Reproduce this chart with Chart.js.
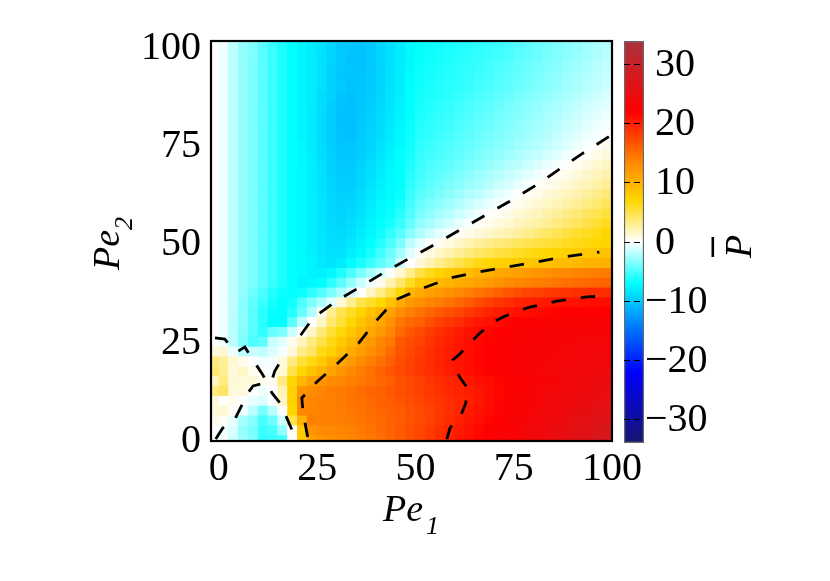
<!DOCTYPE html>
<html>
<head>
<meta charset="utf-8">
<title>Pe1 Pe2 map</title>
<script src="https://cdn.jsdelivr.net/npm/chart.js@4"></script>
<style>
  html, body { margin: 0; padding: 0; background: #fff; }
  canvas { position: absolute; left: 0; top: 0; }
</style>
</head>
<body>
<canvas id="mapCanvas" width="830" height="581"></canvas>
<canvas id="barCanvas" width="830" height="581"></canvas>
<script>
// cell centres
var pe1Cells = [-1.25,1.25,3.75,6.25,8.75,11.25,13.75,16.25,18.75,21.25,23.75,26.25,28.75,31.25,33.75,36.25,38.75,41.25,43.75,46.25,48.75,51.25,53.75,56.25,58.75,61.25,63.75,66.25,68.75,71.25,73.75,76.25,78.75,81.25,83.75,86.25,88.75,91.25,93.75,96.25,98.75];
var pe2Cells = [98.75,96.25,93.75,91.25,88.75,86.25,83.75,81.25,78.75,76.25,73.75,71.25,68.75,66.25,63.75,61.25,58.75,56.25,53.75,51.25,48.75,46.25,43.75,41.25,38.75,36.25,33.75,31.25,28.75,26.25,23.75,21.25,18.75,16.25,13.75,11.25,8.75,6.25,3.75,1.25,-1.25];

// P bar, one row per pe2Cells entry, top row first
var pressure = [
[0,-.5,-1.8,-2.9,-3.5,-4.5,-5.4,-6.2,-7, -7.5,-8,-8.5,-9.3,-10,-10.2,-10.3,-10,-9.3,-8.7,-8, -7.2,-6.9,-6.7,-6.5,-6.3,-6.1,-5.9,-5.7,-5.5,-5.3, -5,-4.7,-4.4,-4.1,-3.8,-3.5,-3.2,-2.9,-2.6,-2.3,-2],
[0,-.5,-1.8,-2.9,-3.5,-4.5,-5.4,-6.2,-7, -7.5,-8,-8.6,-9.3,-10,-10.3,-10.3,-10,-9.3,-8.7,-8, -7.2,-6.9,-6.6,-6.4,-6.2,-6,-5.8,-5.6,-5.4,-5.2, -4.9,-4.6,-4.3,-4,-3.7,-3.4,-3.1,-2.8,-2.5,-2.2,-1.9],
[0,-.5,-1.8,-2.9,-3.6,-4.5,-5.4,-6.2,-7, -7.5,-8,-8.7,-9.4,-10,-10.2,-10.3,-10,-9.4,-8.7,-8, -7.2,-6.8,-6.5,-6.3,-6.1,-5.9,-5.7,-5.5,-5.2,-5, -4.7,-4.4,-4.1,-3.8,-3.5,-3.2,-2.9,-2.6,-2.3,-2,-1.7],
[0,-.5,-1.8,-2.9,-3.6,-4.5,-5.4,-6.2,-7, -7.5,-8,-8.7,-9.5,-10.1,-10.3,-10.2,-9.9,-9.3,-8.6,-7.9, -7.1,-6.7,-6.4,-6.2,-6,-5.8,-5.6,-5.3,-5.1,-4.8, -4.5,-4.2,-3.9,-3.6,-3.3,-3,-2.7,-2.4,-2.1,-1.8,-1.5],
[0,-.5,-1.8,-2.9,-3.6,-4.5,-5.4,-6.2,-7, -7.5,-8,-8.7,-9.4,-10,-10.3,-10.2,-9.9,-9.3,-8.6,-7.9, -7.1,-6.6,-6.3,-6.1,-5.9,-5.7,-5.5,-5.2,-5,-4.7, -4.4,-4.1,-3.8,-3.5,-3.2,-2.9,-2.6,-2.3,-2,-1.7,-1.4],
[0,-.5,-1.8,-2.9,-3.6,-4.5,-5.4,-6.2,-7, -7.5,-8,-8.8,-9.5,-10.2,-10.4,-10.2,-9.8,-9.2,-8.5,-7.8, -7,-6.5,-6.2,-6,-5.8,-5.5,-5.2,-5,-4.7,-4.4, -4.1,-3.8,-3.5,-3.2,-2.9,-2.6,-2.3,-2,-1.7,-1.4,-1.1],
[0,-.5,-1.8,-2.9,-3.6,-4.5,-5.4,-6.2,-7, -7.5,-8,-8.9,-9.7,-10.3,-10.5,-10.2,-9.7,-9.1,-8.4,-7.7, -7,-6.4,-6.1,-5.8,-5.6,-5.3,-5,-4.7,-4.4,-4.1, -3.8,-3.5,-3.2,-2.9,-2.6,-2.3,-2,-1.7,-1.3,-1,-.8],
[0,-.5,-1.8,-2.9,-3.6,-4.5,-5.4,-6.2,-7, -7.5,-8.1,-9,-9.8,-10.4,-10.5,-10.1,-9.6,-9,-8.3,-7.6, -6.9,-6.3,-5.9,-5.6,-5.4,-5.1,-4.8,-4.5,-4.2,-3.9, -3.6,-3.3,-3,-2.7,-2.4,-2.1,-1.8,-1.4,-1.1,-.8,-.5],
[0,-.5,-1.8,-2.9,-3.6,-4.5,-5.4,-6.2,-7, -7.5,-8.1,-9,-9.8,-10.4,-10.5,-10,-9.5,-8.9,-8.2,-7.5, -6.8,-6.1,-5.8,-5.5,-5.2,-4.9,-4.6,-4.3,-4,-3.7, -3.4,-3.1,-2.8,-2.5,-2.2,-1.9,-1.5,-1.2,-.8,-.5,-.3],
[0,-.5,-1.8,-2.9,-3.6,-4.5,-5.4,-6.2,-7, -7.5,-8.1,-9,-9.8,-10.3,-10.4,-9.9,-9.4,-8.8,-8.1,-7.4, -6.7,-6,-5.6,-5.3,-5,-4.7,-4.4,-4.1,-3.8,-3.5, -3.2,-2.9,-2.6,-2.3,-2,-1.6,-1.2,-.9,-.5,-.3,0],
[0,-.5,-1.8,-2.9,-3.6,-4.5,-5.4,-6.2,-7, -7.4,-8,-8.9,-9.7,-10.2,-10.2,-9.8,-9.3,-8.6,-7.9,-7.2, -6.6,-5.8,-5.4,-5.1,-4.8,-4.5,-4.2,-3.9,-3.6,-3.3, -3,-2.7,-2.3,-2,-1.7,-1.3,-.9,-.5,-.2,.1,.5],
[0,-.5,-1.8,-2.9,-3.6,-4.5,-5.4,-6.2,-7, -7.4,-7.9,-8.8,-9.6,-10.1,-10.1,-9.7,-9.1,-8.4,-7.7,-7, -6.4,-5.6,-5.2,-4.9,-4.6,-4.3,-4,-3.6,-3.3,-3, -2.6,-2.3,-1.9,-1.6,-1.2,-.8,-.4,-.1,.2,.6,1],
[0,-.5,-1.8,-2.9,-3.6,-4.5,-5.4,-6.2,-7, -7.4,-7.9,-8.7,-9.5,-10,-10,-9.5,-8.9,-8.2,-7.5,-7, -6.2,-5.4,-5,-4.7,-4.3,-4,-3.6,-3.3,-2.9,-2.5, -2.1,-1.8,-1.4,-1,-.6,-.2,.1,.4,.8,1.2,1.6],
[0,-.5,-1.8,-2.9,-3.6,-4.5,-5.4,-6.2,-7, -7.3,-7.9,-8.7,-9.4,-9.8,-9.8,-9.3,-8.7,-8,-7.4,-7, -6,-5.2,-4.7,-4.4,-4,-3.6,-3.2,-2.8,-2.4,-2, -1.6,-1.2,-.8,-.4,0,.3,.6,1,1.4,1.8,2.2],
[0,-.5,-1.8,-2.9,-3.6,-4.5,-5.4,-6.2,-7, -7.3,-7.8,-8.6,-9.3,-9.7,-9.7,-9.2,-8.5,-7.8,-7.3,-7, -5.8,-5,-4.5,-4,-3.6,-3.2,-2.8,-2.4,-2,-1.5, -1.1,-.6,-.2,.1,.4,.8,1.1,1.5,1.9,2.4,2.9],
[0,-.5,-1.8,-2.9,-3.6,-4.5,-5.4,-6.2,-7, -7.3,-7.8,-8.5,-9.2,-9.6,-9.5,-9,-8.3,-7.6,-7.2,-6.8, -5.5,-4.6,-4.1,-3.6,-3.1,-2.7,-2.2,-1.8,-1.3,-.8, -.4,0,.3,.6,1,1.4,1.8,2.2,2.7,3.2,3.7],
[0,-.5,-1.8,-2.9,-3.6,-4.5,-5.4,-6.2,-7, -7.3,-7.8,-8.5,-9.1,-9.5,-9.3,-8.8,-8.1,-7.4,-7,-6.4, -5.2,-4.2,-3.6,-3.1,-2.6,-2.1,-1.6,-1.1,-.7,-.3, 0,.4,.8,1.2,1.6,2,2.4,2.9,3.4,3.9,4.5],
[0,-.5,-1.8,-2.9,-3.6,-4.5,-5.4,-6.2,-7, -7.3,-7.8,-8.5,-9.1,-9.4,-9.1,-8.6,-7.9,-7.2,-6.7,-5.9, -4.8,-3.7,-3.1,-2.5,-2,-1.4,-.9,-.4,0,.3, .7,1.1,1.5,1.9,2.4,2.8,3.3,3.8,4.3,4.8,5.3],
[0,-.5,-1.8,-2.9,-3.6,-4.5,-5.4,-6.2,-7, -7.3,-7.8,-8.5,-9,-9.2,-8.9,-8.3,-7.6,-7,-6.3,-5.4, -4.2,-3,-2.4,-1.8,-1.2,-.6,-.2,.2,.5,.9, 1.3,1.7,2.1,2.5,3,3.5,4,4.5,5,5.6,6.2],
[0,-.5,-1.8,-2.9,-3.6,-4.5,-5.4,-6.2,-7, -7.3,-7.8,-8.4,-8.9,-9,-8.7,-8,-7.3,-6.6,-5.6,-4.6, -3.3,-2.2,-1.4,-.7,-.2,.2,.6,1,1.4,1.8, 2.2,2.7,3.2,3.7,4.2,4.7,5.2,5.7,6.1,6.5,7],
[0,-.5,-1.8,-2.9,-3.6,-4.5,-5.4,-6.2,-7, -7.3,-7.8,-8.4,-8.8,-8.8,-8.3,-7.6,-7,-6,-4.9,-3.6, -1.8,-.8,-.1,.4,.9,1.5,2.1,2.7,3.2,3.6, 4,4.4,4.8,5.2,5.5,5.8,6.1,6.4,6.7,7,7.3],
[0,-.5,-1.8,-2.9,-3.6,-4.5,-5.4,-6.2,-7, -7.2,-7.7,-8.3,-8.6,-8.5,-7.8,-7.2,-6.4,-5.2,-4,-2.6, -.9,.1,.8,1.5,2.2,3,3.6,4.2,4.7,5.2, 5.6,6,6.4,6.7,7,7.3,7.6,7.9,8.2,8.5,8.8],
[0,-.5,-1.8,-2.9,-3.6,-4.5,-5.4,-6.2,-7, -7.2,-7.6,-8.2,-8.5,-8,-7.1,-6.3,-5.4,-4.4,-3.5,-1.3, 0,1,2,3,4,5,5.8,6.5,7,7.4, 7.7,8,8.2,8.5,8.7,9,9.2,9.5,9.7,10,10.2],
[0,-.5,-1.8,-2.9,-3.6,-4.5,-5.4,-6.2,-7, -7.3,-7.6,-7.8,-7.3,-6.2,-5,-3.7,-2.5,-1.3,-.2,1.2, 3,5,6.3,7.2,8,8.6,9.2,9.8,10.2,10.7, 11.1,11.5,11.9,12.3,12.6,13,13.3,13.6,13.9,14.1,14.3],
[0,-.5,-1.8,-2.9,-3.6,-4.5,-5.4,-6.2,-7, -7.5,-7.4,-7,-5.8,-4.5,-3,-1.5,-.4,.5,2,4, 6,8,8.7,9.3,9.8,10.3,10.8,11.3,11.9,12.5, 13,13.4,13.8,14.1,14.4,14.7,15,15.2,15.4,15.6,15.8],
[0,-.5,-1.8,-3,-4,-5,-6,-6.7,-7, -6.7,-5.8,-4.8,-3.6,-2.3,-1,0,1.5,3.2,5,7, 9.5,10.8,11.5,12,12.7,13.3,14,14.7,15.3,16, 16.6,17.2,17.7,18,18.3,18.6,18.8,19,19.1,19.2,19.3],
[0,-.5,-1.8,-3.2,-4.3,-5.3,-6.4,-7,-6.5, -5,-3.5,-2.2,-.8,1,3,4.8,5.8,7,8.5,10.5, 12,12.6,13.4,14.2,14.8,15.5,16.4,17.2,18,18.7, 19.2,19.7,20,20.3,20.6,20.8,21,21,21.1,21.2,21.3],
[0,-.5,-1.8,-3.2,-4.5,-5.8,-6.8,-7,-6, -4.2,-2.2,.3,3,4.8,6,7.2,8.8,10,11.2,12.8, 14,14.8,15.7,16.4,17,17.7,18.5,19.2,19.8,20.3, 20.7,21,21.2,21.4,21.6,21.8,21.9,22,22,22.1,22.1],
[0,-.5,-1.9,-3.2,-4.5,-5.8,-7,-7,-4.5, -1.8,-.1,1.5,4,5.5,7,8.5,9.8,11,12.5,14.5, 15.5,16,17,18,18.6,19.2,20,20.6,21,21.4, 21.7,22,22.2,22.4,22.5,22.6,22.6,22.7,22.7,22.8,22.8],
[0,-.5,-1.9,-3.3,-4.6,-5.6,-4.2,-3.6,-1.5, 0,1.6,3.7,5.5,6.8,8.2,9.5,10.8,12,13.5,15.3, 16.5,17.3,18.2,19,19.7,20.3,20.9,21.3,21.7,22, 22.3,22.5,22.7,22.8,22.9,23,23,23.1,23.1,23.2,23.2],
[0,-.5,-1.8,-3.5,-5,-4.5,-1.5,-.8,.5, 1.8,3.5,5,6.5,8,9.5,11,12,13.5,14.5,16.5, 17.2,17.8,18.8,19.5,20,20.6,21.1,21.5,21.9,22.2, 22.5,22.7,22.9,23,23.1,23.2,23.3,23.3,23.4,23.4,23.5],
[1,1.2,-.5,-1.8,-1.5,-1.8,-1,-.3,1, 3.3,4.3,6.5,7.5,9,10.5,11.7,12.8,14,15.3,16.8, 17.5,18.3,19,19.7,20.2,20.7,21.2,21.6,22,22.3, 22.6,22.8,23,23.1,23.2,23.3,23.4,23.5,23.5,23.6,23.6],
[3.5,2.8,1.2,.6,0,-.3,-.3,.9,3.5, 5.5,6.5,8,10,11,12,13,14,15,16,17.2, 17.8,18.5,19.2,19.8,20.3,20.8,21.2,21.6,22,22.3, 22.6,22.8,23,23.2,23.3,23.4,23.5,23.6,23.7,23.8,23.9],
[4,3,1,1.6,.4,.2,-.2,1.2,5, 7,8.5,10,11.3,12.3,13.2,14.2,15,15.8,16.7,17.5, 18,18.6,19.2,19.7,20.2,20.7,21.1,21.5,21.9,22.2, 22.5,22.8,23,23.2,23.4,23.6,23.7,23.9,24,24.2,24.3],
[1.6,3.5,1,1,1,.4,.4,3.5,7, 9.5,11.5,12.5,13,13.5,14,14.5,15,15.5,16,17, 17.5,18,18.6,19.1,19.6,20,20.5,21,21.3,21.7, 22,22.4,22.7,23,23.2,23.5,23.7,24,24.2,24.4,24.6],
[3.5,4.3,1,1,0,-.4,0,2,7.5, 12.5,13,13.5,14,14.3,14.7,15.2,15.6,16,16.4,17, 17.5,18,18.5,19,19.5,19.8,20.2,20.7,21.2,21.6, 22,22.4,22.8,23.1,23.4,23.7,24,24.2,24.5,24.8,25],
[1,.2,.5,-.1,-.7,-1,-.1,1.5,7.5, 13,13.5,13.8,14,14.3,14.7,15,15.4,15.8,16.2,16.7, 17.2,17.7,18.2,18.7,19.2,19.6,20,20.6,21.2,21.7, 22.1,22.5,22.9,23.3,23.7,24,24.3,24.6,24.9,25.2,25.5],
[1,1.2,.2,-.4,-1.8,-3.7,-2,0,7, 13.5,13.7,13.8,14,14.2,14.5,14.8,15.2,15.6,16,16.4, 16.9,17.4,17.9,18.5,19.1,19.7,20.3,20.8,21.3,21.8, 22.2,22.6,23,23.4,23.8,24.2,24.6,25,25.4,25.8,26.2],
[.5,.3,-.7,-2.4,-3.3,-4.9,-4,-1.4,5, 10,14,13.8,14,14.2,14.4,14.7,15,15.4,15.8,16.3, 16.8,17.3,17.9,18.6,19.3,20,20.6,21.2,21.7,22.1, 22.5,22.9,23.3,23.7,24.1,24.5,25,25.5,26,26.5,26.9],
[0,-.4,-1,-2.9,-3.7,-5.3,-5,-2.9,.2, 8,12.5,13,13.3,13.6,13.9,14.3,14.8,15.3,15.8,16.4, 17,17.6,18.3,19,19.7,20.3,21,21.5,22,22.4, 22.8,23.2,23.6,24,24.4,24.9,25.4,25.9,26.4,27,27.5],
[0,-.2,-1.4,-2.7,-3.5,-5.6,-5.4,-5,0, 8,11.5,12.3,12.8,13.2,13.6,14,14.5,15,15.6,16.3, 17,17.7,18.4,19.1,19.9,20.6,21.3,21.8,22.2,22.6, 23,23.4,23.8,24.2,24.7,25.2,25.7,26.3,26.9,27.5,28]
];

// dashed contours, as [pe1, pe2]
var contourZeroUpper = [[99.2,75.7],[92.6,71.5],[86.3,67.2],[80.4,63.2],[74,59.3],[67.9,55.8],[61.3,52],[54.7,48.2],[48.1,44.6],[42.2,41.3],[35.9,37.5],[29.5,33.7],[23.9,29.6],[19.1,22.9]];
var contourZeroKnee = [[-0.8,-1.1],[1,1.7],[4.1,4],[5.6,7],[7.4,10.6],[8.7,12.4],[10.9,12.9],[13.5,13.9],[14.2,16.1],[16.2,19.5]];
var contourZeroLower = [[-1,24.6],[1.5,24.3],[2.3,23.3],[4.6,21],[6.6,22.3],[7.4,21],[9.2,18.2],[11.2,15.2],[13.5,10.6],[15.5,8.1],[17.3,4.2],[18.6,1.2]];
var contourTen = [[22.6,-0.6],[22.4,0.4],[21.4,5.8],[21.1,9.3],[24.9,13.4],[30.3,18.2],[35.6,23.3],[40.2,29.1],[44.8,34.2],[51.9,37.2],[58.8,39.8],[65.9,41.3],[73.3,42.6],[80.4,43.8],[87.5,45.1],[96.8,46.4]];
var contourTwenty = [[58,-1.1],[58.8,1.7],[61.6,5],[62.8,8],[63.4,11.6],[61.3,14.6],[59.5,17.9],[59.5,19],[61.3,20.5],[63.9,23.3],[66.4,25.8],[69.5,28.4],[72.3,29.9],[75.8,31.4],[79.1,32.4],[82.9,33.2],[86.3,34],[90.1,34.5],[93.6,35],[97.7,35.2],[99.3,35.4]];

var axisTicks = [0,25,50,75,100];
var barTicks = [-30,-20,-10,0,10,20,30];
var barRange = [-34,34];

var paletteStops = [
  [-34,[22,22,110]], [-22,[0,0,255]], [-14,[0,128,255]], [-7,[0,255,255]], [0,[255,255,255]],
  [7,[255,215,0]], [14,[255,128,0]], [22,[255,0,0]], [34,[170,50,60]]
];

var serif = '"Liberation Serif"';

function colorFor(v)
{
    for (let i = 1; i < paletteStops.length; i++) {
        if (v <= paletteStops[i][0]) {
            let a = paletteStops[i-1], b = paletteStops[i];
            let t = (v - a[0]) / (b[0] - a[0]);
            let c = a[1].map((n, k) => Math.round(n + (b[1][k] - n) * t));
            return 'rgb(' + c.join(',') + ')';
        }
    }
    return 'rgb(170,50,60)';
}

var datasets = [];
pressure.forEach((row, r) => {
    datasets.push({
        type: 'bar',
        order: 2,
        grouped: false,
        barPercentage: 1,
        categoryPercentage: 1,
        inflateAmount: 0.5,
        backgroundColor: row.map(colorFor),
        data: row.map((v, c) => ({x: pe1Cells[c], y: [pe2Cells[r] - 1.25, pe2Cells[r] + 1.25]}))
    });
});
[contourZeroUpper, contourZeroKnee, contourZeroLower, contourTen, contourTwenty].forEach(line => {
    datasets.push({
        type: 'line',
        order: 1,
        borderColor: '#000',
        borderWidth: 2.8,
        borderDash: [14.5, 15],
        pointRadius: 0,
        tension: 0,
        data: line.map(p => ({x: p[0], y: p[1]}))
    });
});

// frame and the axis names with their subscripts
var mapDecor = {
    id: 'mapDecor',
    afterDatasetsDraw(chart) {
        let ctx = chart.ctx, a = chart.chartArea;
        ctx.save();
        ctx.strokeStyle = '#000';
        ctx.lineWidth = 2.2;
        ctx.strokeRect(a.left, a.top, a.right - a.left, a.bottom - a.top);
        ctx.restore();
    },
    afterDraw(chart) {
        let ctx = chart.ctx;
        ctx.save();
        ctx.fillStyle = '#000';
        ctx.textBaseline = 'alphabetic';
        ctx.font = 'italic 38px ' + serif;
        ctx.fillText('Pe', 383, 521);
        ctx.font = 'italic 26px ' + serif;
        ctx.fillText('1', 426, 534);
        ctx.translate(119, 270);
        ctx.rotate(-Math.PI / 2);
        ctx.font = 'italic 38px ' + serif;
        ctx.fillText('Pe', 0, 0);
        ctx.font = 'italic 26px ' + serif;
        ctx.fillText('2', 40, 13);
        ctx.restore();
    }
};

new Chart(document.getElementById('mapCanvas'), {
    type: 'bar',
    data: {datasets: datasets},
    plugins: [mapDecor],
    options: {
        responsive: false,
        animation: false,
        layout: {padding: {top: 41, right: 218, left: 0, bottom: 0}},
        plugins: {legend: {display: false}, tooltip: {enabled: false}},
        scales: {
            x: {
                type: 'linear', min: -2, max: 100, offset: false,
                afterBuildTicks: s => { s.ticks = axisTicks.map(v => ({value: v})); },
                afterFit: s => { s.height = 140; },
                grid: {display: false, tickLength: 0},
                border: {display: false},
                ticks: {color: '#000', font: {family: serif, size: 40}, padding: 4, autoSkip: false, maxRotation: 0}
            },
            y: {
                type: 'linear', min: -1.6, max: 100,
                afterBuildTicks: s => { s.ticks = axisTicks.map(v => ({value: v})); },
                afterFit: s => { s.width = 211; },
                grid: {display: false, tickLength: 0},
                border: {display: false},
                ticks: {color: '#000', font: {family: serif, size: 40}, padding: 10, labelOffset: 7, autoSkip: false}
            }
        }
    }
});

// colour key
var barDecor = {
    id: 'barDecor',
    afterDraw(chart) {
        let ctx = chart.ctx;
        ctx.save();
        ctx.fillStyle = '#000';
        ctx.fillRect(711.5, 237, 2.6, 20);
        ctx.translate(751, 258);
        ctx.rotate(-Math.PI / 2);
        ctx.font = 'italic 38px ' + serif;
        ctx.fillText('P', 0, 0);
        ctx.restore();
    }
};

new Chart(document.getElementById('barCanvas'), {
    type: 'bar',
    data: {
        labels: [''],
        datasets: [{
            data: [barRange],
            barPercentage: 1,
            categoryPercentage: 1,
            borderColor: '#666',
            borderWidth: 1.5,
            borderSkipped: false,
            backgroundColor: function (ctx) {
                let area = ctx.chart.chartArea;
                if (!area) return '#fff';
                let g = ctx.chart.ctx.createLinearGradient(0, area.bottom, 0, area.top);
                paletteStops.forEach(s => {
                    g.addColorStop((s[0] - barRange[0]) / (barRange[1] - barRange[0]), colorFor(s[0]));
                });
                return g;
            }
        }]
    },
    plugins: [barDecor],
    options: {
        responsive: false,
        animation: false,
        layout: {padding: {top: 41, bottom: 138, left: 624, right: 0}},
        plugins: {legend: {display: false}, tooltip: {enabled: false}},
        scales: {
            x: {display: false},
            y: {
                position: 'right',
                min: barRange[0], max: barRange[1],
                afterBuildTicks: s => { s.ticks = barTicks.map(v => ({value: v})); },
                afterFit: s => { s.width = 186; },
                grid: {color: '#000', lineWidth: 1, z: 1, drawTicks: false},
                border: {display: false, dash: [6, 4]},
                ticks: {
                    color: '#000', font: {family: serif, size: 40}, padding: 1, labelOffset: 1, autoSkip: false,
                    callback: v => v < 0 ? '\u2212' + Math.abs(v) : '\u2005' + v
                }
            }
        }
    }
});
</script>
</body>
</html>
